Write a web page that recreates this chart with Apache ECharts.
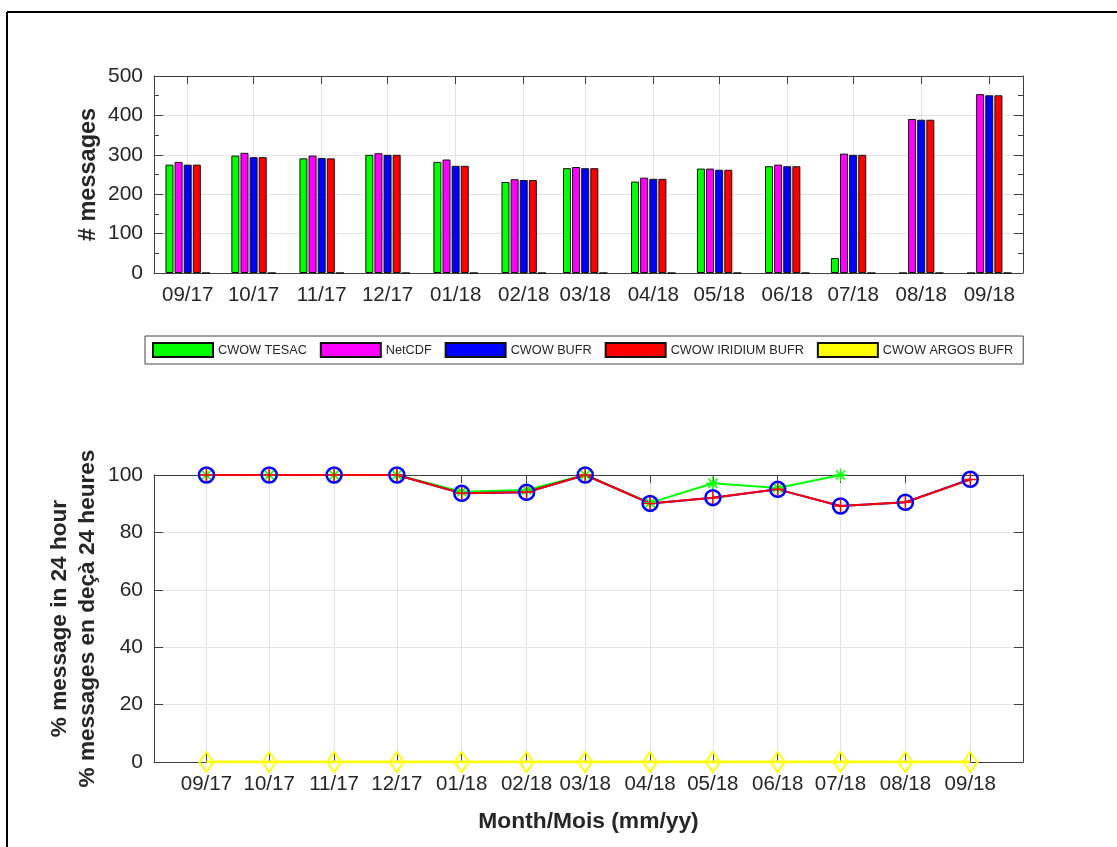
<!DOCTYPE html>
<html>
<head>
<meta charset="utf-8">
<title>CWOW messages</title>
<script src="https://cdn.jsdelivr.net/npm/echarts@6/dist/echarts.min.js"></script>
<style>
  html, body { margin: 0; padding: 0; background: #fff; }
  #main { width: 1117px; height: 847px; }
</style>
</head>
<body>
<div id="main"></div>
<script>
  // months (mm/yy)
  var months = ['09/17', '10/17', '11/17', '12/17', '01/18', '02/18', '03/18',
    '04/18', '05/18', '06/18', '07/18', '08/18', '09/18'];

  // # messages per month
  var tesacCount = [275, 298, 291, 300, 282, 231, 266, 232, 265, 271, 38, 0, 0];
  var netcdfCount = [282, 305, 298, 304, 288, 238, 269, 242, 265, 275, 303, 391, 454];
  var bufrCount = [275, 294, 292, 300, 272, 236, 266, 239, 262, 271, 300, 389, 451];
  var iridiumCount = [275, 294, 291, 300, 272, 236, 266, 239, 262, 271, 300, 389, 451];
  var argosCount = [0, 0, 0, 0, 0, 0, 0, 0, 0, 0, 0, 0, 0];

  // % messages within 24 hours
  var tesacPct = [100, 100, 100, 100, 94.2, 94.8, 100, 90.3, 97.1, 95.5, 100, null, null];
  var bufrPct = [100, 100, 100, 100, 93.6, 94.0, 100, 90.1, 92.1, 95.0, 89.2, 90.5, 98.5];
  var iridiumPct = [100, 100, 100, 100, 93.6, 94.0, 100, 90.1, 92.1, 95.0, 89.2, 90.5, 98.4];
  var argosPct = [0, 0, 0, 0, 0, 0, 0, 0, 0, 0, 0, 0, 0];

  var names = ['CWOW TESAC', 'NetCDF', 'CWOW BUFR', 'CWOW IRIDIUM BUFR', 'CWOW ARGOS BUFR'];
  var colors = ['#00ff00', '#ff00ff', '#0000ff', '#ff0000', '#ffff00'];

  // month label -> day number (days since epoch, UTC)
  function toDay(m) {
    var p = m.split('/');
    return Date.UTC(2000 + parseInt(p[1], 10), parseInt(p[0], 10) - 1, 1) / 86400000;
  }
  function pair(vals) {
    return vals.map(function (v, i) { return [toDay(months[i]), v]; });
  }
  function fmt(v) {
    var d = new Date(Math.round(v) * 86400000);
    var mm = d.getUTCMonth() + 1, yy = d.getUTCFullYear() % 100;
    return (mm < 10 ? '0' : '') + mm + '/' + (yy < 10 ? '0' : '') + yy;
  }

  var ticks = months.map(toDay);
  var topMin = ticks[0] - 15.35, topMax = ticks[12] + 15.35;
  var botMin = ticks[0] - 25.06, botMax = ticks[12] + 25.2;

  var textColor = '#262626';
  var lineColor = '#404040';
  var gridColor = '#e3e3e3';
  var font = 'Liberation Sans, Arial, Helvetica, sans-serif';

  function xAx(grid, min, max, pos, extra) {
    var a = {
      type: 'value', gridIndex: grid, position: pos, min: min, max: max, scale: true,
      axisLine: { show: true, onZero: false, lineStyle: { color: lineColor, width: 1 } },
      axisTick: { show: true, inside: true, length: 8, customValues: ticks, lineStyle: { color: lineColor } },
      axisLabel: { show: false },
      splitLine: { show: false }
    };
    if (extra) {
      a.axisLabel = { show: true, customValues: ticks, formatter: fmt, fontSize: 20.5, color: textColor, fontFamily: font, margin: 12 };
      a.splitLine = { show: true, lineStyle: { color: gridColor, width: 1 } };
    }
    return a;
  }
  function yAx(grid, max, interval, pos, minor, extra) {
    var a = {
      type: 'value', gridIndex: grid, position: pos, min: 0, max: max, interval: interval,
      axisLine: { show: true, lineStyle: { color: lineColor, width: 1 } },
      axisTick: { show: true, inside: true, length: 9, lineStyle: { color: lineColor } },
      minorTick: { show: minor, splitNumber: 2, length: 5, lineStyle: { color: lineColor } },
      axisLabel: { show: false },
      splitLine: { show: false }
    };
    if (extra) {
      a.axisLabel = { show: true, fontSize: 21, color: textColor, fontFamily: font, margin: 11 };
      a.splitLine = { show: true, lineStyle: { color: gridColor, width: 1 } };
    }
    return a;
  }

  var xTop = xAx(0, topMin, topMax, 'bottom', true);
  var xBot = xAx(1, botMin, botMax, 'bottom', true);
  xBot.name = 'Month/Mois (mm/yy)';
  xBot.nameLocation = 'middle';
  xBot.nameGap = 48;
  xBot.nameTextStyle = { fontSize: 22.8, fontWeight: 'bold', color: textColor, fontFamily: font };

  var yTop = yAx(0, 500, 100, 'left', true, true);
  yTop.name = '# messages';
  yTop.nameLocation = 'middle';
  yTop.nameGap = 53;
  yTop.nameMoveOverlap = false;
  yTop.nameTextStyle = { fontSize: 23.5, fontWeight: 'bold', color: textColor, fontFamily: font };

  var yBot = yAx(1, 100, 20, 'left', false, true);
  yBot.name = '% message in 24 hour\n% messages en deçà 24 heures';
  yBot.nameLocation = 'middle';
  yBot.nameGap = 52;
  yBot.nameMoveOverlap = false;
  yBot.nameTextStyle = { fontSize: 22.6, fontWeight: 'bold', color: textColor, fontFamily: font, lineHeight: 28 };

  var counts = [tesacCount, netcdfCount, bufrCount, iridiumCount, argosCount];
  var series = counts.map(function (vals, i) {
    return {
      name: names[i], type: 'bar', xAxisIndex: 0, yAxisIndex: 0,
      data: pair(vals), barWidth: 8, barGap: '14%',
      itemStyle: { color: colors[i], borderColor: '#111', borderWidth: 1 }
    };
  });

  var asterisk = 'path://M5,0L5,10M0,5L10,5M1.5,1.5L8.5,8.5M1.5,8.5L8.5,1.5';
  var plus = 'path://M5,0L5,10M0,5L10,5';

  series.push({
    name: 'TESAC %', type: 'line', xAxisIndex: 1, yAxisIndex: 2, data: pair(tesacPct),
    symbol: asterisk, symbolSize: 13, showAllSymbol: true,
    lineStyle: { color: colors[0], width: 2 },
    itemStyle: { color: 'transparent', borderColor: colors[0], borderWidth: 1.5 }
  });
  series.push({
    name: 'BUFR %', type: 'line', xAxisIndex: 1, yAxisIndex: 2, data: pair(bufrPct),
    symbol: 'circle', symbolSize: 15, showAllSymbol: true,
    lineStyle: { color: colors[2], width: 2 },
    itemStyle: { color: 'transparent', borderColor: colors[2], borderWidth: 2.5 }
  });
  series.push({
    name: 'IRIDIUM %', type: 'line', xAxisIndex: 1, yAxisIndex: 2, data: pair(iridiumPct),
    symbol: plus, symbolSize: 13, showAllSymbol: true,
    lineStyle: { color: colors[3], width: 2 },
    itemStyle: { color: 'transparent', borderColor: colors[3], borderWidth: 1.5 }
  });
  series.push({
    name: 'ARGOS %', type: 'line', xAxisIndex: 1, yAxisIndex: 2, data: pair(argosPct),
    symbol: 'diamond', symbolSize: [14, 20], showAllSymbol: true,
    lineStyle: { color: colors[4], width: 3 },
    itemStyle: { color: 'transparent', borderColor: colors[4], borderWidth: 2 }
  });

  var chart = echarts.init(document.getElementById('main'), null, { renderer: 'canvas' });
  chart.setOption({
    animation: false,
    backgroundColor: '#fff',
    textStyle: { fontFamily: font },
    grid: [
      { left: 154, right: 94, top: 76, height: 197 },
      { left: 154, right: 94, top: 475, height: 287 }
    ],
    legend: {
      data: names, left: 145, top: 336, orient: 'horizontal',
      icon: 'rect', itemWidth: 60, itemHeight: 14, itemGap: 13,
      padding: [6, 10, 6, 7], borderColor: '#444', borderWidth: 1,
      textStyle: { fontSize: 12.7, color: textColor, fontFamily: font },
      selectedMode: false
    },
    xAxis: [xTop, xBot, xAx(0, topMin, topMax, 'top', false), xAx(1, botMin, botMax, 'top', false)],
    yAxis: [yTop, yAx(0, 500, 100, 'right', true, false), yBot, yAx(1, 100, 20, 'right', false, false)],
    series: series,
    graphic: [
      { type: 'line', shape: { x1: 7, y1: 12, x2: 1117, y2: 12 }, style: { stroke: '#000', lineWidth: 2 } },
      { type: 'line', shape: { x1: 7, y1: 12, x2: 7, y2: 847 }, style: { stroke: '#000', lineWidth: 2 } }
    ]
  });
</script>
</body>
</html>
